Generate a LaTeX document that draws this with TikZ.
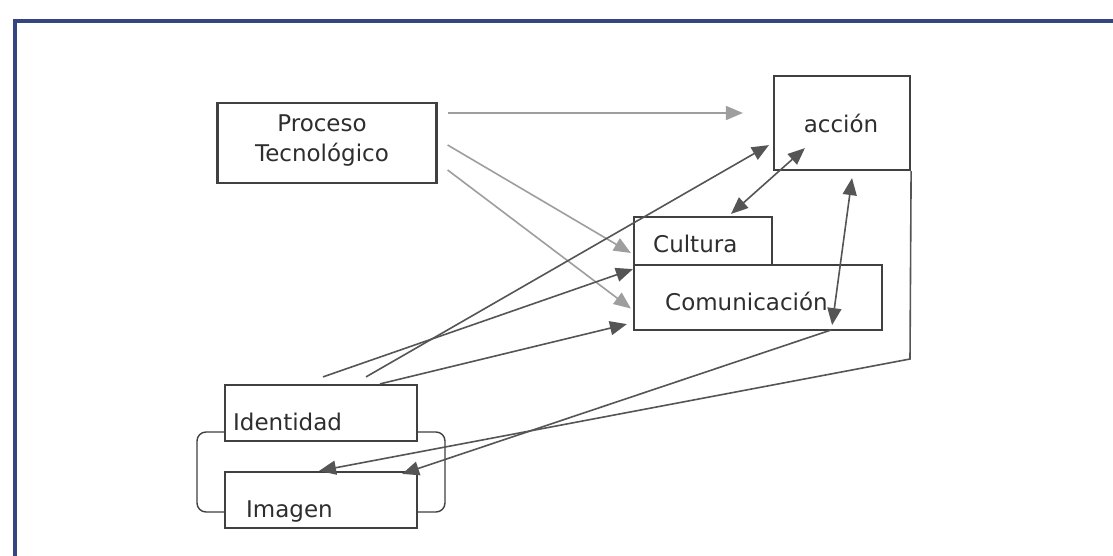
\documentclass[tikz,border=0pt]{standalone}
\usepackage{fontspec}
\setmainfont{DejaVu Sans}
\usetikzlibrary{arrows.meta}
\definecolor{framenavy}{HTML}{35457F}
\definecolor{boxline}{HTML}{404040}
\definecolor{arrowdark}{HTML}{555555}
\definecolor{arrowlight}{HTML}{9E9E9E}
\definecolor{labelink}{HTML}{2E2E2E}

\begin{document}
\begin{tikzpicture}[
  x=1pt,
  y=-1pt,
  every node/.style={font=\fontsize{23}{30}\selectfont, labelink, inner sep=0pt},
  box/.style={draw=boxline, line width=2.2pt, fill=white},
  link/.style={arrowdark, line width=1.6pt, -{Triangle[length=17pt,width=14pt]}},
  feed/.style={arrowlight, line width=1.6pt, -{Triangle[length=17pt,width=14pt]}},
  both/.style={link, {Triangle[length=17pt,width=14pt]}-{Triangle[length=17pt,width=14pt]}},
  frame/.style={framenavy, line width=4pt},
  bracket/.style={boxline, line width=1.4pt, rounded corners=9pt}
]
  \useasboundingbox[fill=white] (0,0) rectangle (1113,556);

  % ---- the page frame --------------------------------------------------
  \draw[frame] (1113,21) -- (15,21) -- (15,556);

  % ---- the boxes -------------------------------------------------------
  \node[box, minimum width=219, minimum height=80] (proceso) at (327,143) {};
  \node[box, minimum width=136, minimum height=94] (accion) at (842,123) {};
  \node[box, minimum width=138, minimum height=48] (cultura) at (703,241) {};
  \node[box, minimum width=248, minimum height=65] (comunicacion) at (758,297.5) {};
  \node[box, minimum width=192, minimum height=56] (identidad) at (321,413) {};
  \node[box, minimum width=192, minimum height=56] (imagen) at (321,500) {};

  % ---- the bracket that ties identidad and imagen ----------------------
  \draw[bracket] (225,432) -- (197,432) -- (197,512) -- (225,512);
  \draw[bracket] (417,432) -- (445,432) -- (445,512) -- (417,512);

  % ---- the labels ------------------------------------------------------
  \node[align=center] (procesolbl) at (322,141) {Proceso\\Tecnológico};
  \node[anchor=base] (accionlbl) at (841,133) {acción};
  \node[anchor=base west] (culturalbl) at (653,252) {Cultura};
  \node[anchor=base west] (comunicacionlbl) at (665,310) {Comunicación};
  \node[anchor=base west] (identidadlbl) at (233,430) {Identidad};
  \node[anchor=base west] (imagenlbl) at (246,517) {Imagen};

  % ---- what the process feeds ------------------------------------------
  \draw[feed] ([xshift=10pt,yshift=30pt]proceso.east)
    -- ([xshift=-30pt,yshift=10pt]accion.west);
  \draw[feed] ([xshift=10pt,yshift=-2pt]proceso.east)
    -- ([xshift=-2pt,yshift=-12pt]cultura.west);
  \draw[feed] ([xshift=10pt,yshift=-27pt]proceso.east)
    -- ([xshift=-2pt,yshift=-11pt]comunicacion.west);

  % ---- what identidad feeds --------------------------------------------
  \draw[link] ([xshift=2pt,yshift=7pt]identidad.north)
    -- ([yshift=-3pt]cultura.south west);
  \draw[link] ([xshift=45pt,yshift=7pt]identidad.north)
    -- ([xshift=-4pt,yshift=26pt]accion.south west);
  \draw[link] ([xshift=59pt]identidad.north)
    -- ([xshift=-6pt,yshift=7pt]comunicacion.south west);

  % ---- the two way links of accion -------------------------------------
  \draw[both] ([xshift=32pt,yshift=23pt]accion.south west)
    -- ([xshift=28pt,yshift=2pt]cultura.north);
  \coordinate (kink) at (831,330);
  \draw[both] ([xshift=10pt,yshift=-7pt]accion.south)
    -- ([xshift=-51pt,yshift=6pt]comunicacion.south east);

  % ---- back to imagen --------------------------------------------------
  \draw[link] (kink) -- ([xshift=-16pt,yshift=-3pt]imagen.north east);
  \coordinate (accionfoot) at (910,359);
  \draw[link] (accion.south east) -- (accionfoot)
    -- ([xshift=-2pt]imagen.north);
\end{tikzpicture}
\end{document}
